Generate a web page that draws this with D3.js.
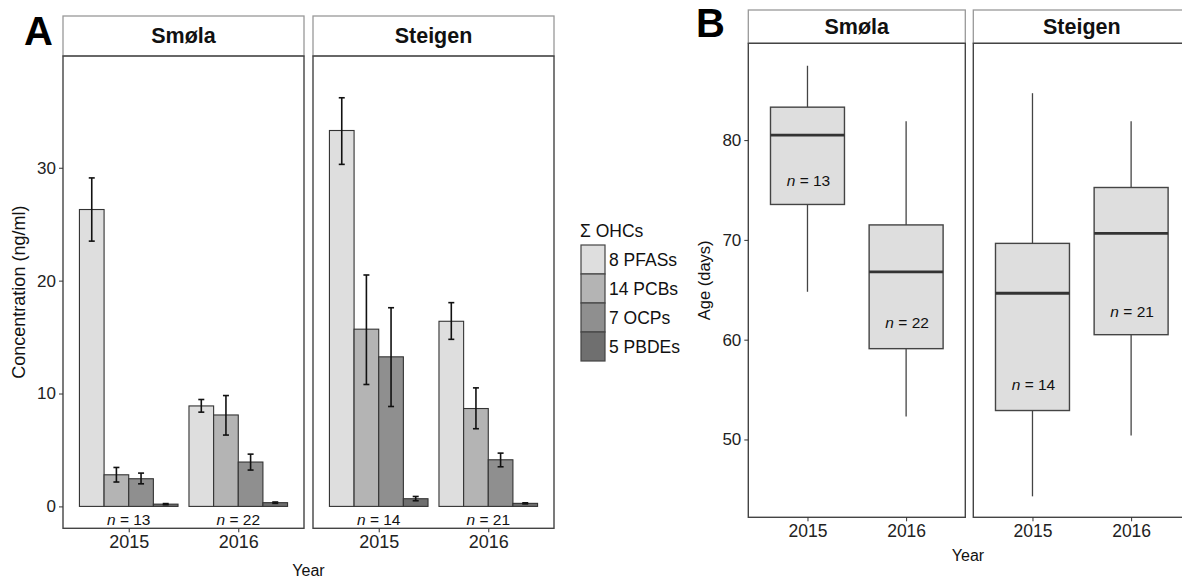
<!DOCTYPE html>
<html>
<head>
<meta charset="utf-8">
<title>OHCs and age</title>
<script src="https://d3js.org/d3.v7.min.js"></script>
<style>
  html, body { margin: 0; padding: 0; background: #fff; }
  svg { display: block; font-family: "Liberation Sans", Arial, Helvetica, sans-serif; }
  .tick text { fill: #222; }
  .tick line { stroke: #333; }
</style>
</head>
<body>
<svg id="chart" width="1182" height="580"></svg>
<script>
// ---- data (groups: Smøla 2015, Smøla 2016, Steigen 2015, Steigen 2016)
var sites = ["Smøla", "Steigen"];
var years = ["2015", "2016"];
var compounds = ["8 PFASs", "14 PCBs", "7 OCPs", "5 PBDEs"];
var concTicks = [0, 10, 20, 30];
var ageTicks = [50, 60, 70, 80];

var pfasMean = [26.3, 8.9, 33.3, 16.4];
var pfasLo   = [23.5, 8.35, 30.3, 14.8];
var pfasHi   = [29.1, 9.47, 36.2, 18.05];
var pcbMean  = [2.8, 8.1, 15.7, 8.67];
var pcbLo    = [2.16, 6.32, 10.8, 6.88];
var pcbHi    = [3.45, 9.82, 20.5, 10.5];
var ocpMean  = [2.45, 3.93, 13.25, 4.13];
var ocpLo    = [2.0, 3.22, 8.85, 3.51];
var ocpHi    = [2.95, 4.63, 17.6, 4.72];
var pbdeMean = [0.2, 0.33, 0.68, 0.27];
var pbdeLo   = [0.15, 0.27, 0.5, 0.22];
var pbdeHi   = [0.25, 0.39, 0.88, 0.32];
var nBirds   = [13, 22, 14, 21];

var ageLow    = [64.8, 52.3, 44.3, 50.4];
var ageQ1     = [73.55, 59.1, 52.9, 60.5];
var ageMedian = [80.5, 66.8, 64.65, 70.65];
var ageQ3     = [83.3, 71.5, 69.65, 75.25];
var ageHigh   = [87.45, 81.9, 84.7, 81.9];
var nLabelAge = [76.0, 61.8, 55.6, 62.9];

var means = [pfasMean, pcbMean, ocpMean, pbdeMean];
var los = [pfasLo, pcbLo, ocpLo, pbdeLo];
var his = [pfasHi, pcbHi, ocpHi, pbdeHi];
var fills = ["#dedede", "#b4b4b4", "#8f8f8f", "#6f6f6f"];

var svg = d3.select("#chart");

function facetFrame(g, x0, w, top, stripBottom, bottom, label, fs) {
  g.append("rect").attr("x", x0).attr("y", top).attr("width", w).attr("height", stripBottom - top)
    .attr("fill", "#fff").attr("stroke", "#999").attr("stroke-width", 1.3);
  g.append("text").attr("x", x0 + w / 2).attr("y", (top + stripBottom) / 2)
    .attr("text-anchor", "middle").attr("dominant-baseline", "central")
    .attr("font-weight", "bold").attr("font-size", fs).attr("fill", "#111").text(label);
}
function panelBorder(g, x0, w, top, bottom) {
  g.append("rect").attr("x", x0).attr("y", top).attr("width", w).attr("height", bottom - top)
    .attr("fill", "none").attr("stroke", "#444").attr("stroke-width", 1.4);
}

// ================= Panel A =================
var A = { left: [63, 313], width: 241, top: 16, strip: 56, bottom: 528.3 };
var yA = d3.scaleLinear().domain([-1.94, 39.9]).range([A.bottom, A.strip]);

var gA = svg.append("g");
sites.forEach(function (site, s) {
  var x0 = A.left[s];
  var x = d3.scaleLinear().domain([0.4, 2.6]).range([x0, x0 + A.width]);
  facetFrame(gA, x0, A.width, A.top, A.strip, A.bottom, site, 21.5);

  years.forEach(function (yr, j) {
    var gi = s * 2 + j;
    var band = d3.scaleBand().domain(compounds).range([x(j + 1 - 0.45), x(j + 1 + 0.45)]);
    compounds.forEach(function (c, k) {
      gA.append("rect")
        .attr("x", band(c)).attr("width", band.bandwidth())
        .attr("y", yA(means[k][gi])).attr("height", yA(0) - yA(means[k][gi]))
        .attr("fill", fills[k]).attr("stroke", "#333").attr("stroke-width", 1.1);
      var cx = band(c) + band.bandwidth() / 2;
      var eb = gA.append("g").attr("stroke", "#111").attr("stroke-width", 1.6);
      eb.append("line").attr("x1", cx).attr("x2", cx).attr("y1", yA(los[k][gi])).attr("y2", yA(his[k][gi]));
      [los[k][gi], his[k][gi]].forEach(function (v) {
        eb.append("line").attr("x1", cx - 3).attr("x2", cx + 3).attr("y1", yA(v)).attr("y2", yA(v));
      });
    });
    var t = gA.append("text").attr("x", x(j + 1)).attr("y", yA(-1.15))
      .attr("text-anchor", "middle").attr("dominant-baseline", "central")
      .attr("font-size", 15.5).attr("fill", "#111");
    t.append("tspan").attr("font-style", "italic").text("n");
    t.append("tspan").text(" = " + nBirds[gi]);
  });

  panelBorder(gA, x0, A.width, A.strip, A.bottom);

  var xAxis = d3.axisBottom(x).tickValues([1, 2]).tickFormat(function (d) { return years[d - 1]; })
    .tickSize(4).tickPadding(3);
  var ax = gA.append("g").attr("transform", "translate(0," + A.bottom + ")").call(xAxis);
  ax.select(".domain").remove();
  ax.selectAll("text").attr("font-size", 18);
});

var yAxisA = d3.axisLeft(yA).tickValues(concTicks).tickSize(4).tickPadding(3);
var ayA = gA.append("g").attr("transform", "translate(" + A.left[0] + ",0)").call(yAxisA);
ayA.select(".domain").remove();
ayA.selectAll("text").attr("font-size", 17);

gA.append("text").attr("transform", "translate(19," + (A.strip + A.bottom) / 2 + ") rotate(-90)")
  .attr("text-anchor", "middle").attr("dominant-baseline", "central")
  .attr("font-size", 18).attr("fill", "#111").text("Concentration (ng/ml)");
gA.append("text").attr("x", (A.left[0] + A.left[1] + A.width) / 2).attr("y", 570)
  .attr("text-anchor", "middle").attr("dominant-baseline", "central")
  .attr("font-size", 16).attr("fill", "#111").text("Year");
svg.append("text").attr("x", 24).attr("y", 45).attr("font-size", 40).attr("font-weight", "bold")
  .attr("fill", "#000").text("A");

// legend
var leg = svg.append("g").attr("transform", "translate(581,0)");
leg.append("text").attr("x", -1).attr("y", 231).attr("dominant-baseline", "central")
  .attr("font-size", 17.5).attr("fill", "#111").text("\u03A3 OHCs");
compounds.forEach(function (c, k) {
  var yk = 245 + k * 29;
  leg.append("rect").attr("x", 0).attr("y", yk).attr("width", 24).attr("height", 29)
    .attr("fill", fills[k]).attr("stroke", "#444").attr("stroke-width", 1.2);
  leg.append("text").attr("x", 28).attr("y", yk + 15).attr("dominant-baseline", "central")
    .attr("font-size", 17.5).attr("fill", "#111").text(c);
});

// ================= Panel B =================
var B = { left: [748.3, 973.3], width: 217, top: 10, strip: 43.3, bottom: 517.3 };
var yB = d3.scaleLinear().domain([42.2, 89.7]).range([B.bottom, B.strip]);
var gB = svg.append("g");

sites.forEach(function (site, s) {
  var x0 = B.left[s];
  var x = d3.scaleLinear().domain([0.4, 2.6]).range([x0, x0 + B.width]);
  facetFrame(gB, x0, B.width, B.top, B.strip, B.bottom, site, 21.5);

  years.forEach(function (yr, j) {
    var gi = s * 2 + j;
    var cx = x(j + 1), xl = x(j + 1 - 0.375), xr = x(j + 1 + 0.375);
    gB.append("line").attr("x1", cx).attr("x2", cx).attr("y1", yB(ageHigh[gi])).attr("y2", yB(ageQ3[gi]))
      .attr("stroke", "#444").attr("stroke-width", 1.3);
    gB.append("line").attr("x1", cx).attr("x2", cx).attr("y1", yB(ageQ1[gi])).attr("y2", yB(ageLow[gi]))
      .attr("stroke", "#444").attr("stroke-width", 1.3);
    gB.append("rect").attr("x", xl).attr("width", xr - xl)
      .attr("y", yB(ageQ3[gi])).attr("height", yB(ageQ1[gi]) - yB(ageQ3[gi]))
      .attr("fill", "#dedede").attr("stroke", "#444").attr("stroke-width", 1.4);
    gB.append("line").attr("x1", xl).attr("x2", xr).attr("y1", yB(ageMedian[gi])).attr("y2", yB(ageMedian[gi]))
      .attr("stroke", "#333").attr("stroke-width", 2.8);
    var t = gB.append("text").attr("x", cx + 1).attr("y", yB(nLabelAge[gi]))
      .attr("text-anchor", "middle").attr("dominant-baseline", "central")
      .attr("font-size", 15.5).attr("fill", "#111");
    t.append("tspan").attr("font-style", "italic").text("n");
    t.append("tspan").text(" = " + nBirds[gi]);
  });

  panelBorder(gB, x0, B.width, B.strip, B.bottom);

  var xAxis = d3.axisBottom(x).tickValues([1, 2]).tickFormat(function (d) { return years[d - 1]; })
    .tickSize(4).tickPadding(3);
  var ax = gB.append("g").attr("transform", "translate(0," + B.bottom + ")").call(xAxis);
  ax.select(".domain").remove();
  ax.selectAll("text").attr("font-size", 17.5);
});

var yAxisB = d3.axisLeft(yB).tickValues(ageTicks).tickSize(4).tickPadding(3);
var ayB = gB.append("g").attr("transform", "translate(" + B.left[0] + ",0)").call(yAxisB);
ayB.select(".domain").remove();
ayB.selectAll("text").attr("font-size", 17);

gB.append("text").attr("transform", "translate(704," + (B.strip + B.bottom) / 2 + ") rotate(-90)")
  .attr("text-anchor", "middle").attr("dominant-baseline", "central")
  .attr("font-size", 16.5).attr("fill", "#111").text("Age (days)");
gB.append("text").attr("x", 968).attr("y", 555)
  .attr("text-anchor", "middle").attr("dominant-baseline", "central")
  .attr("font-size", 16).attr("fill", "#111").text("Year");
svg.append("text").attr("x", 696).attr("y", 37).attr("font-size", 40).attr("font-weight", "bold")
  .attr("fill", "#000").text("B");
</script>
</body>
</html>
